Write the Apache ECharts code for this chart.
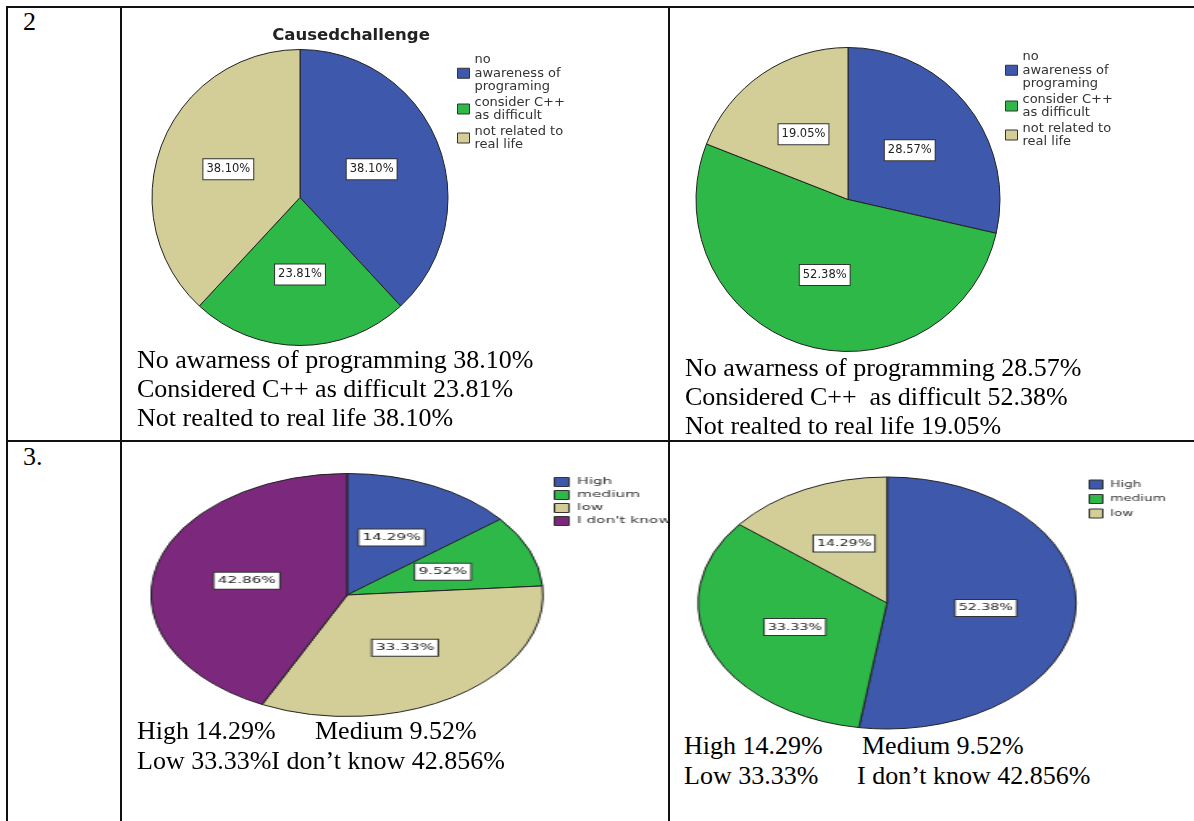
<!DOCTYPE html>
<html>
<head>
<meta charset="utf-8">
<script src="https://cdn.jsdelivr.net/npm/echarts@6/dist/echarts.min.js"></script>
<style>
  html, body { margin: 0; padding: 0; background: #fff; }
  body { width: 1194px; height: 821px; position: relative; overflow: hidden; }
  .rule { position: absolute; background: #111; }
  .note { position: absolute; font-family: "Liberation Serif", "Times New Roman", serif; font-size: 26px; line-height: 29px; color: #000; white-space: pre; z-index: 5; }
  .chart { position: absolute; }
  .clip { position: absolute; overflow: hidden; }
  .stretch { position: absolute; left: 0; top: 0; transform-origin: 0 0; }
</style>
</head>
<body>
<!-- table grid -->
<div class="rule" style="left:6px;top:6px;width:1188px;height:2px"></div>
<div class="rule" style="left:6px;top:440px;width:1188px;height:2px"></div>
<div class="rule" style="left:6px;top:6px;width:2px;height:815px"></div>
<div class="rule" style="left:120px;top:6px;width:2px;height:815px"></div>
<div class="rule" style="left:668px;top:6px;width:2px;height:815px"></div>

<div class="note" style="left:23px;top:7px">2</div>
<div class="note" style="left:23px;top:442px">3.</div>

<div class="chart" id="pieBefore" style="left:124px;top:9px;width:454px;height:340px"></div>
<div class="chart" id="pieAfter" style="left:672px;top:9px;width:520px;height:346px"></div>
<div class="clip" style="left:123px;top:446px;width:545px;height:275px">
  <div class="stretch" id="levelBefore" style="width:338px;height:275px;transform:scaleX(1.613)"></div>
</div>
<div class="clip" style="left:670px;top:446px;width:524px;height:285px">
  <div class="stretch" id="levelAfter" style="width:349px;height:285px;transform:scaleX(1.5)"></div>
</div>

<div class="note" style="left:137px;top:345px">No awarness of programming 38.10%
Considered C++ as difficult 23.81%
Not realted to real life 38.10%</div>
<div class="note" style="left:685px;top:353px">No awarness of programming 28.57%
Considered C++  as difficult 52.38%
Not realted to real life 19.05%</div>

<div class="note" style="left:137px;top:716px;line-height:30px">High 14.29%
Low 33.33%I don’t know 42.856%</div>
<div class="note" style="left:315px;top:716px;line-height:30px">Medium 9.52%</div>
<div class="note" style="left:684px;top:731px;line-height:30px">High 14.29%
Low 33.33%</div>
<div class="note" style="left:862px;top:731px;line-height:30px">Medium 9.52%</div>
<div class="note" style="left:857px;top:761px;line-height:30px">I don’t know 42.856%</div>

<script>
const challengeNames = ["no\nawareness of\nprograming", "consider C++\nas difficult", "not related to\nreal life"];
const challengeBefore = [38.10, 23.81, 38.10];
const challengeAfter = [28.57, 52.38, 19.05];
const levelNames = ["High", "medium", "low", "I don't know"];
const levelBefore = [14.29, 9.52, 33.33, 42.86];
const levelAfterNames = ["High", "medium", "low"];
const levelAfter = [52.38, 33.33, 14.29];
const sliceColors = ["#3e58ac", "#2eb848", "#d3ce97", "#7c287d"];

const SANS = "DejaVu Sans";

function drawPie(id, cfg) {
  const chart = echarts.init(document.getElementById(id));
  const option = {
    animation: false,
    legend: {
      orient: "vertical",
      left: cfg.legendLeft,
      top: cfg.legendTop,
      padding: 0,
      icon: "rect",
      itemWidth: cfg.iconW,
      itemHeight: cfg.iconH,
      itemGap: cfg.legendGap,
      selectedMode: false,
      itemStyle: { borderColor: "#333", borderWidth: 1 },
      textStyle: { fontFamily: SANS, fontSize: cfg.legendSize, lineHeight: cfg.legendLine, color: "#333" },
      data: cfg.names
    },
    series: [{
      type: "pie",
      center: cfg.center,
      radius: cfg.radius,
      startAngle: 90,
      clockwise: true,
      silent: true,
      avoidLabelOverlap: false,
      itemStyle: { borderColor: "#222", borderWidth: 1 },
      label: {
        position: "inside",
        formatter: p => p.value.toFixed(2) + "%",
        fontFamily: SANS,
        fontSize: cfg.labelSize,
        color: "#222",
        backgroundColor: "#fff",
        borderColor: "#333",
        borderWidth: 1,
        padding: cfg.labelPad
      },
      labelLine: { show: false },
      emphasis: { disabled: true },
      data: cfg.names.map((name, i) => ({ name, value: cfg.values[i], itemStyle: { color: sliceColors[i] } }))
    }]
  };
  if (cfg.title) {
    option.graphic = [{
      type: "text", x: cfg.title.x, y: cfg.title.y,
      style: { text: cfg.title.text, align: "center", verticalAlign: "middle", fontFamily: SANS, fontWeight: "bold", fontSize: 16.5, fill: "#222" }
    }];
  }
  chart.setOption(option);
  return chart;
}

drawPie("pieBefore", {
  names: challengeNames, values: challengeBefore,
  center: [176, 188.5], radius: 148,
  legendLeft: 333, legendTop: 44, iconW: 12, iconH: 10, legendGap: 2,
  legendSize: 13, legendLine: 13.5, labelSize: 11.5, labelPad: [4, 3],
  title: { text: "Causedchallenge", x: 227, y: 27 }
});

drawPie("pieAfter", {
  names: challengeNames, values: challengeAfter,
  center: [176, 190.5], radius: 152,
  legendLeft: 333, legendTop: 41, iconW: 12, iconH: 10, legendGap: 2,
  legendSize: 13, legendLine: 13.5, labelSize: 11.5, labelPad: [4, 3]
});

drawPie("levelBefore", {
  names: levelNames, values: levelBefore,
  center: [138.9, 149], radius: 121.5,
  legendLeft: 267, legendTop: 31, iconW: 9, iconH: 9, legendGap: 3,
  legendSize: 9.5, legendLine: 10, labelSize: 9.5, labelPad: [3, 2]
});

drawPie("levelAfter", {
  names: levelAfterNames, values: levelAfter,
  center: [144.7, 157], radius: 126,
  legendLeft: 279, legendTop: 33, iconW: 9, iconH: 9, legendGap: 3.5,
  legendSize: 9, legendLine: 11, labelSize: 9.5, labelPad: [3, 2]
});
</script>
</body>
</html>
